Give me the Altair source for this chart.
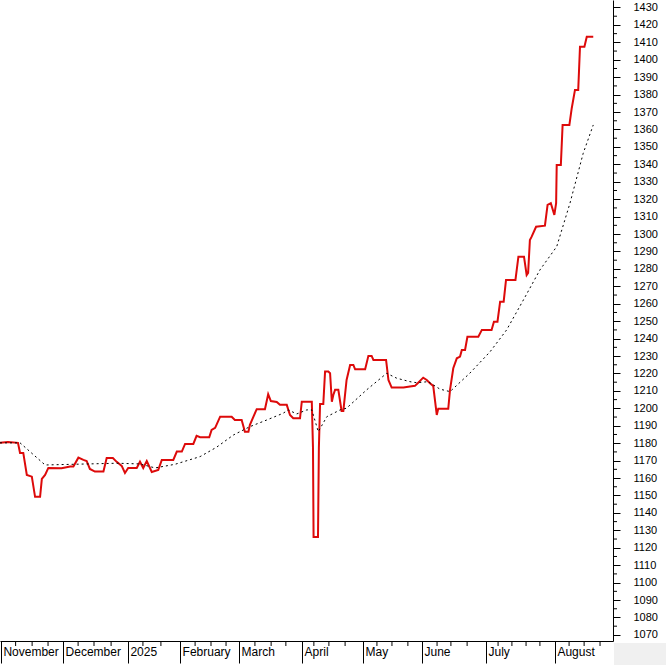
import altair as alt
import pandas as pd

# ---- data (x = trading-day index, y = index value) ----
red_idx = [0.0, 2.7, 6.1, 6.8, 7.9, 9.1, 10.8, 11.9, 13.6, 14.2, 15.3, 16.4, 20.9, 23.8, 24.9,
           26.6, 28.3, 29.4, 30.5, 32.2, 35.1, 36.2, 38.3, 39.6, 41.3, 42.4, 43.5, 46.4, 47.5,
           48.6, 49.8, 51.5, 53.7, 54.9, 58.8, 60.0, 61.7, 62.8, 65.6, 66.7, 67.9, 71.0, 71.8,
           73.0, 74.7, 78.6, 79.7, 82.0, 83.1, 84.3, 84.8, 87.1, 89.9, 91.0, 91.9, 93.9, 95.0,
           97.3, 98.4, 99.5, 101.8, 102.4, 105.8, 106.2, 106.4, 107.9, 108.2, 108.6, 109.7,
           110.3, 111.4, 112.0, 112.6, 113.1, 113.7, 114.8, 115.9, 116.5, 117.6, 118.8, 119.9,
           120.5, 123.9, 125.0, 126.1, 126.7, 131.0, 131.8, 132.9, 136.9, 139.1, 140.8, 141.9,
           143.6, 144.8, 145.9, 147.0, 148.2, 148.7, 152.1, 152.7, 153.8, 155.0, 156.1, 156.7,
           157.8, 158.6, 162.3, 163.5, 166.8, 167.6, 168.8, 169.7, 170.9, 171.7, 174.9, 175.9,
           177.8, 178.7, 179.2, 179.8, 180.4, 181.9, 184.9, 185.8, 186.9, 188.1, 188.7, 188.9,
           190.3, 190.9, 193.2, 194.0, 195.1, 196.2, 196.8, 198.3, 199.1, 201.3]
red_val = [1180.3, 1180.7, 1180.2, 1174.4, 1174.4, 1161.8, 1160.8, 1149.2, 1149.2, 1159.5,
           1161.8, 1165.8, 1165.6, 1166.6, 1166.6, 1171.7, 1170.4, 1169.8, 1165.2, 1163.7,
           1163.7, 1171.5, 1171.5, 1169.3, 1167.0, 1162.9, 1165.8, 1165.8, 1169.4, 1165.8,
           1169.8, 1163.5, 1164.7, 1170.4, 1170.4, 1175.2, 1175.2, 1179.6, 1179.6, 1184.2,
           1183.4, 1183.4, 1187.6, 1188.8, 1195.2, 1195.2, 1193.3, 1193.3, 1186.6, 1186.6,
           1190.5, 1199.5, 1199.5, 1208.1, 1204.2, 1203.7, 1202.0, 1202.0, 1196.2, 1194.3,
           1194.3, 1203.8, 1203.8, 1177.3, 1126.2, 1126.2, 1177.3, 1202.5, 1202.5, 1221.1,
           1221.1, 1220.1, 1203.8, 1207.7, 1210.6, 1210.6, 1198.5, 1198.5, 1216.3, 1224.9,
           1224.9, 1222.4, 1222.4, 1230.1, 1230.1, 1227.8, 1227.8, 1216.3, 1211.9, 1211.9,
           1212.5, 1212.9, 1214.7, 1217.6, 1216.3, 1214.4, 1212.9, 1196.2, 1199.7, 1199.7,
           1210.6, 1223.0, 1228.7, 1229.7, 1233.5, 1233.5, 1241.1, 1241.1, 1245.0, 1245.0,
           1249.7, 1249.7, 1261.2, 1261.2, 1273.7, 1273.7, 1287.0, 1287.0, 1276.5, 1277.7,
           1296.6, 1298.5, 1304.2, 1304.8, 1316.7, 1317.7, 1311.0, 1317.7, 1339.6, 1339.6,
           1362.6, 1362.6, 1372.2, 1382.7, 1382.7, 1407.5, 1407.5, 1413.2, 1413.2]

ma_idx = [0.0, 6.8, 15.3, 39.7, 47.5, 52.6, 59.4, 67.9, 73.5, 79.2, 84.8, 90.5, 96.1, 97.8,
          100.7, 104.1, 105.8, 108.0, 110.9, 115.4, 117.6, 124.4, 131.2, 134.6, 139.1, 141.4,
          145.3, 149.3, 152.7, 159.5, 166.3, 171.9, 177.6, 183.2, 188.9, 193.4, 197.9, 201.3]
ma_val = [1180.2, 1180.2, 1167.5, 1168.5, 1168.1, 1165.8, 1167.9, 1172.3, 1177.7, 1184.7,
          1189.5, 1193.3, 1197.2, 1199.1, 1196.8, 1199.1, 1199.1, 1186.6, 1195.2, 1199.1,
          1200.1, 1210.6, 1220.1, 1217.3, 1215.3, 1214.7, 1215.3, 1211.0, 1209.6, 1220.3,
          1232.5, 1245.0, 1262.2, 1279.4, 1292.8, 1317.7, 1346.4, 1362.6]

month_names = ["November", "December", "2025", "February", "March", "April", "May",
               "June", "July", "August"]
month_starts = [0.3, 21.4, 43.4, 61.1, 81.1, 102.5, 123.2, 143.2, 164.9, 188.3]
week_ticks = [5.3, 10.9, 16.3, 26.5, 31.9, 37.7, 48.5, 54.6, 66.2, 71.6, 76.7, 86.5, 92.0,
              97.0, 106.5, 111.6, 117.1, 127.9, 133.0, 138.4, 148.3, 153.0, 158.5, 169.0,
              173.7, 178.5, 183.2, 193.1, 198.2, 203.6]
y_major = list(range(1070, 1431, 10))
y_minor = list(range(1075, 1431, 10))

X_DOMAIN = [0, 208]
Y_DOMAIN = [1066.5, 1434.3]
W, H = 613, 641
FONT = "Liberation Sans"

red_df = pd.DataFrame({"i": range(len(red_idx)), "x": red_idx, "v": red_val})
ma_df = pd.DataFrame({"i": range(len(ma_idx)), "x": ma_idx, "v": ma_val})

xscale = alt.Scale(domain=X_DOMAIN, nice=False, zero=False)
yscale = alt.Scale(domain=Y_DOMAIN, nice=False, zero=False)

names_js = "[" + ",".join("'%s'" % n for n in month_names) + "]"
starts_js = "[" + ",".join(str(s) for s in month_starts) + "]"


def x_axis():
    return alt.Axis(
        orient="bottom", values=month_starts, title=None, grid=False,
        tickSize=22, tickColor="black", domainColor="black", tickWidth=1, domainWidth=1,
        labelExpr=names_js + "[indexof(" + starts_js + ", datum.value)]",
        labelAlign="left", labelBaseline="top", labelPadding=-17, labelOffset=2,
        labelFont=FONT, labelFontSize=12, labelColor="black", labelOverlap=False,
        labelFlush=False,
    )


def y_axis():
    return alt.Axis(
        orient="right", values=y_major, title=None, grid=False,
        tickSize=7, tickColor="black", domainColor="black", tickWidth=1, domainWidth=1,
        labelPadding=13, labelFont=FONT, labelFontSize=11, labelColor="black",
        labelAlign="left", labelOverlap=False, labelBound=False, format="d",
    )


def X(field):
    return alt.X(field, scale=xscale, axis=x_axis())


def Y(field):
    return alt.Y(field, scale=yscale, axis=y_axis())


red = alt.Chart(red_df).mark_line(color="#dd0a0a", strokeWidth=2).encode(
    x=X("x:Q"), y=Y("v:Q"), order="i:Q",
)
ma = alt.Chart(ma_df).mark_line(color="black", strokeWidth=1, strokeDash=[2, 3]).encode(
    x=X("x:Q"), y=Y("v:Q"), order="i:Q",
)
wk = alt.Chart(pd.DataFrame({"x": week_ticks})).mark_rule(color="black", strokeWidth=1).encode(
    x=X("x:Q"), y=alt.value(H), y2=alt.value(H + 5),
)
ymin = alt.Chart(pd.DataFrame({"v": y_minor})).mark_rule(color="black", strokeWidth=1).encode(
    y=Y("v:Q"), x=alt.value(W), x2=alt.value(W + 4),
)
corner = alt.Chart(pd.DataFrame({"a": [0]})).mark_rect(color="#f0f0f0").encode(
    x=alt.value(W + 1), x2=alt.value(666), y=alt.value(H + 2), y2=alt.value(665),
)

chart = alt.layer(red, corner, ma, wk, ymin).properties(
    width=W, height=H,
    autosize=alt.AutoSizeParams(type="none"),
    padding={"left": 0, "top": 0, "right": 53, "bottom": 24},
    background="white",
).configure_view(stroke=None)

chart.save("out.html", embed_options={"renderer": "svg", "actions": False})
